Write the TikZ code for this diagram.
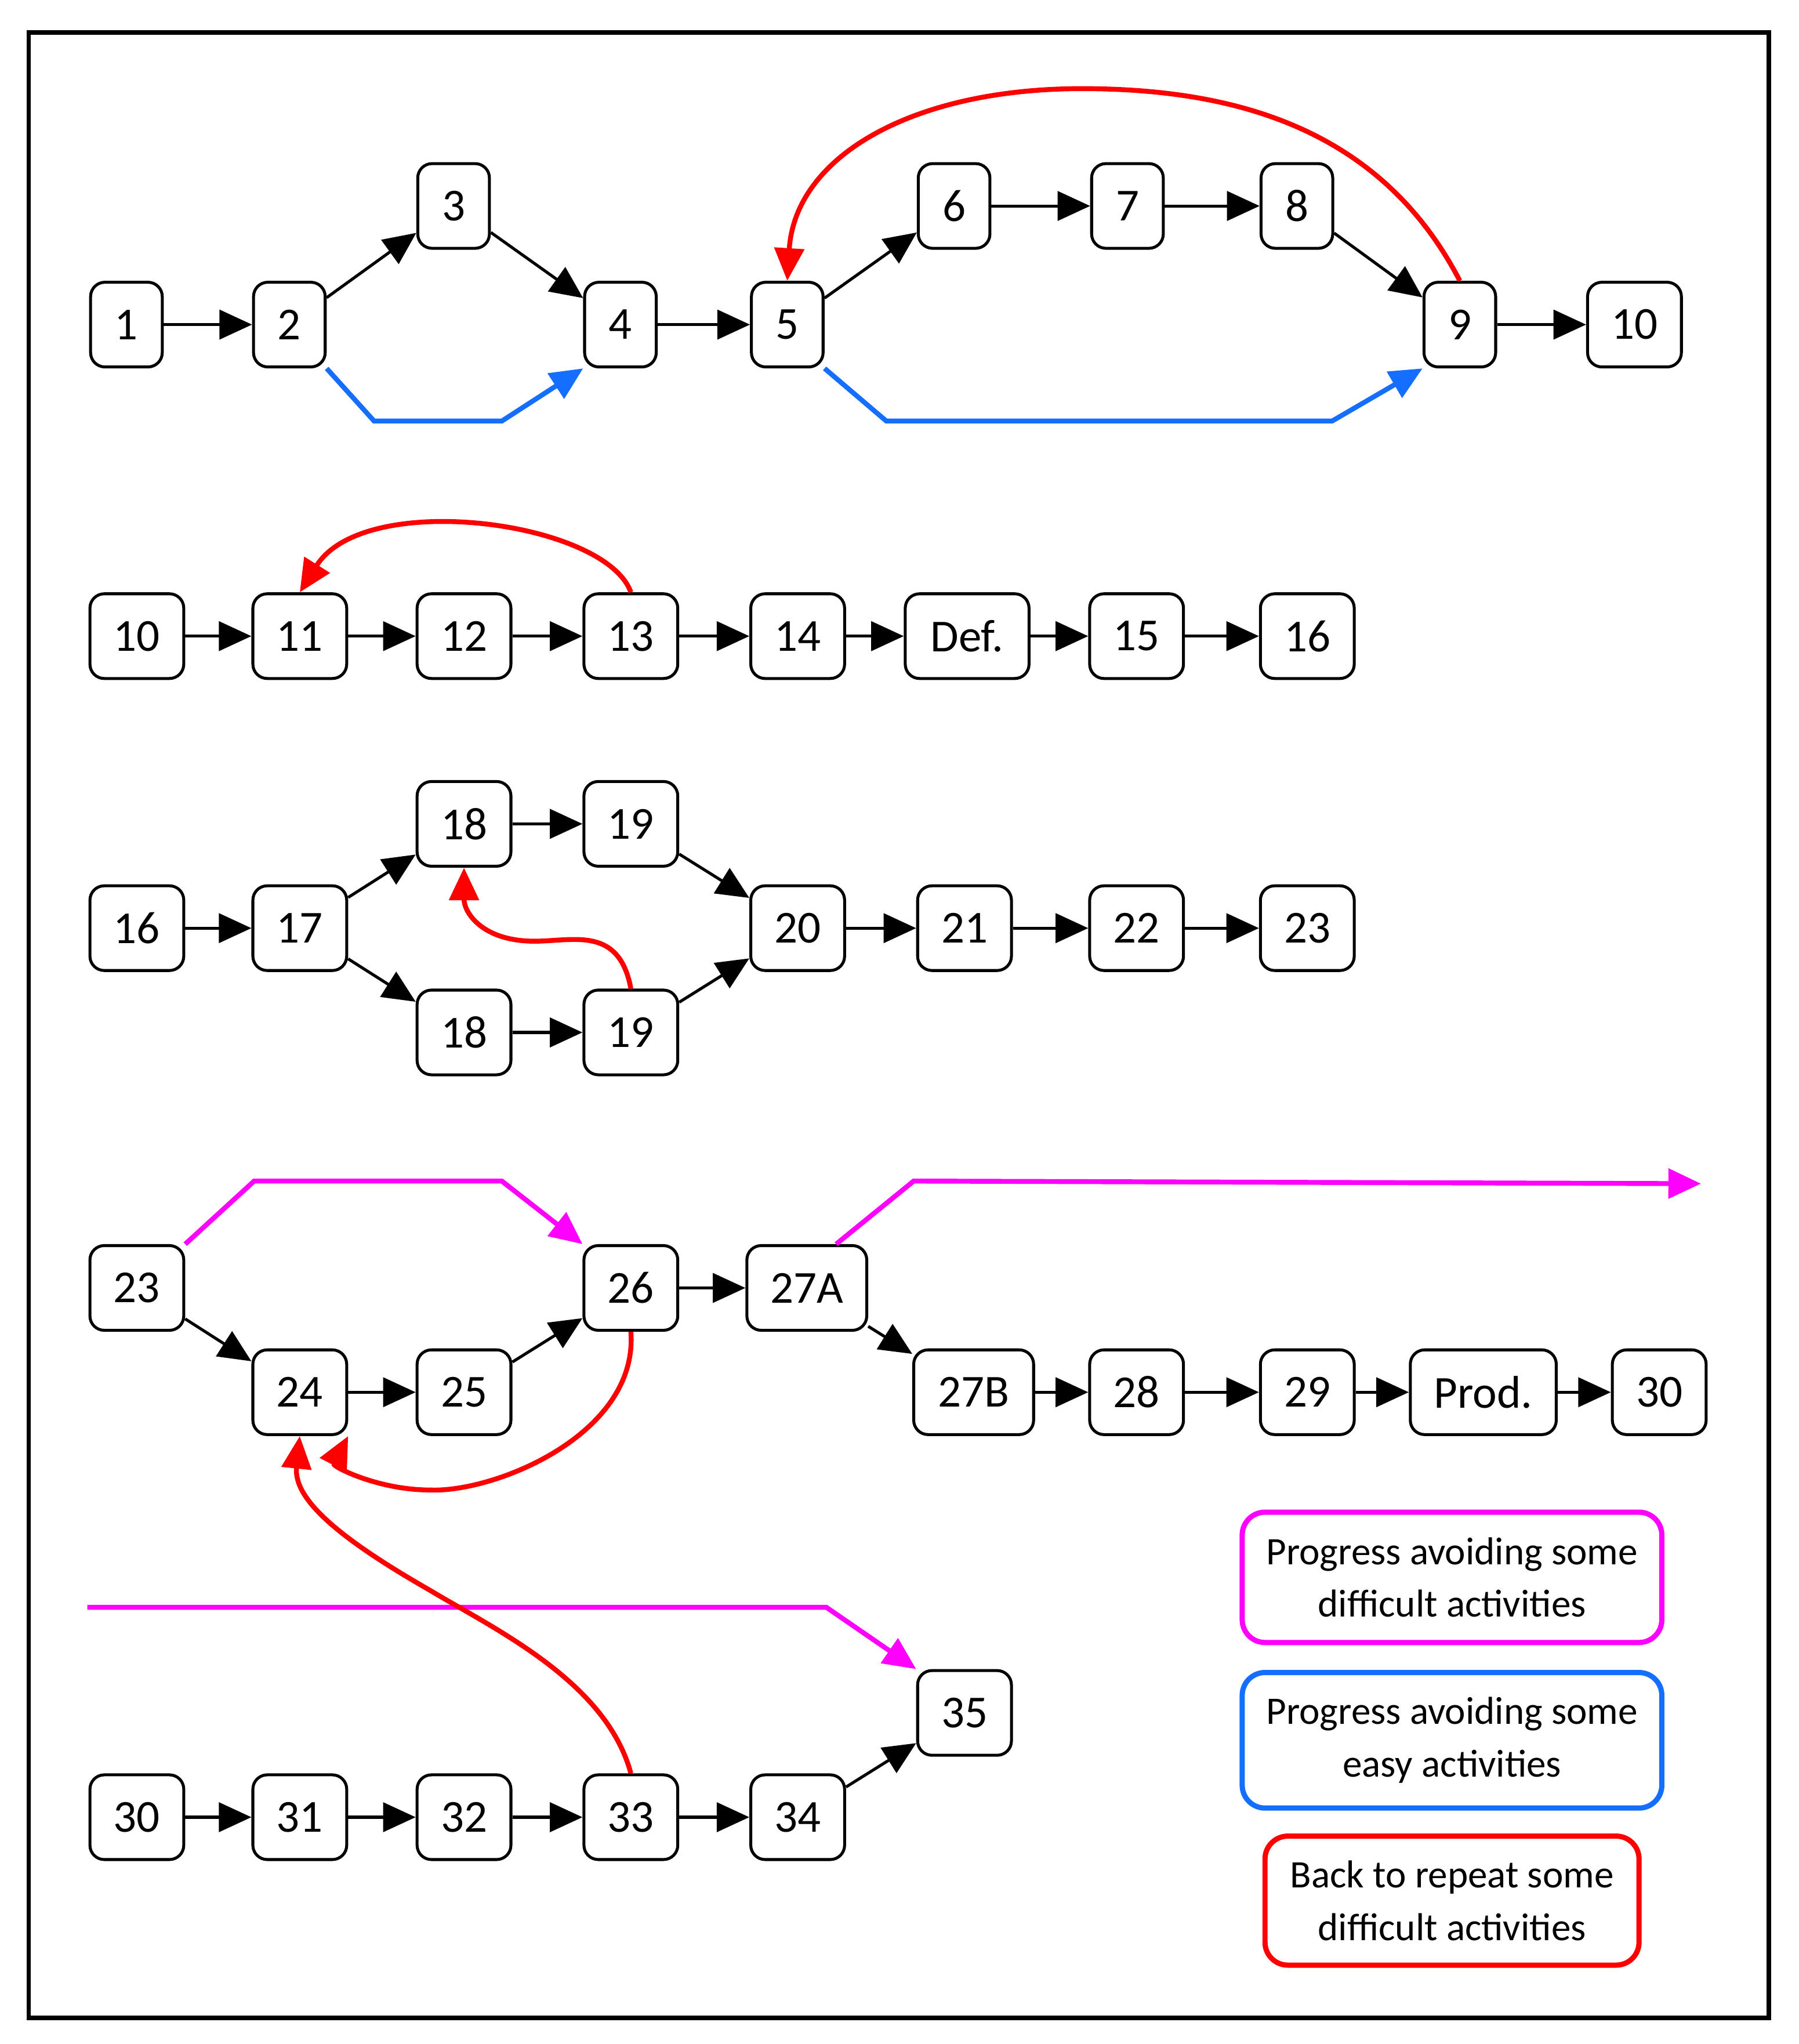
\documentclass[tikz,border=0pt]{standalone}
\usepackage{fontspec}
\setmainfont{Carlito}
\usetikzlibrary{arrows.meta}
\definecolor{mag}{RGB}{255,0,255}
\definecolor{blu}{RGB}{20,110,255}
\definecolor{rd}{RGB}{255,0,0}
\begin{document}
\begin{tikzpicture}[x=0.02cm,y=-0.02cm,
 n/.style={draw,line width=0.045cm,rounded corners=0.22cm,minimum width=1.1cm,minimum height=1.3cm,inner sep=0pt,font=\fontsize{20}{22}\selectfont},
 w/.style={n,minimum width=1.44cm},
 ar/.style={line width=0.045cm,-{Triangle[length=0.5cm,width=0.45cm]}},
 ca/.style={line width=0.075cm,-{Triangle[length=0.5cm,width=0.45cm]}},
 lg/.style={draw,line width=0.08cm,rounded corners=0.35cm,align=center,font=\fontsize{17}{23}\selectfont,inner sep=0pt}]
\useasboundingbox (0,0) rectangle (1380,1568);
\draw[line width=0.07cm] (22,25) rectangle (1357,1548);
% row 1
\node[n] (a1) at (97,249) {1};
\node[n] (a2) at (222,249) {2};
\node[n] (a3) at (348,158) {3};
\node[n] (a4) at (476,249) {4};
\node[n] (a5) at (604,249) {5};
\node[n] (a6) at (732,158) {6};
\node[n] (a7) at (865,158) {7};
\node[n] (a8) at (995,158) {8};
\node[n] (a9) at (1120,249) {9};
\node[w] (a10) at (1254,249) {10};
\draw[ar] (a1)--(a2); \draw[ar] (a2)--(a3); \draw[ar] (a3)--(a4); \draw[ar] (a4)--(a5);
\draw[ar] (a5)--(a6); \draw[ar] (a6)--(a7); \draw[ar] (a7)--(a8); \draw[ar] (a8)--(a9); \draw[ar] (a9)--(a10);
\draw[ca,blu] (a2.south east) -- (287,323) -- (385,323) -- (a4.south west);
\draw[ca,blu] (a5.south east) -- (680,323) -- (1022,323) -- (a9.south west);
\draw[ca,rd] (a9.north) .. controls (1060,100) and (950,68) .. (830,68) .. controls (700,68) and (610,120) .. (a5.north);
% row 2
\node[w] (b10) at (105,488) {10};
\node[w] (b11) at (230,488) {11};
\node[w] (b12) at (356,488) {12};
\node[w] (b13) at (484,488) {13};
\node[w] (b14) at (612,488) {14};
\node[n,minimum width=1.9cm] (bd) at (742,488) {Def.};
\node[w] (b15) at (872,488) {15};
\node[w] (b16) at (1003,488) {16};
\draw[ar] (b10)--(b11); \draw[ar] (b11)--(b12); \draw[ar] (b12)--(b13); \draw[ar] (b13)--(b14);
\draw[ar] (b14)--(bd); \draw[ar] (bd)--(b15); \draw[ar] (b15)--(b16);
\draw[ca,rd] (b13.north) .. controls (465,400) and (280,375) .. (b11.north);
% row 3
\node[w] (c16) at (105,712) {16};
\node[w] (c17) at (230,712) {17};
\node[w] (c18) at (356,632) {18};
\node[w] (c19) at (484,632) {19};
\node[w] (c18b) at (356,792) {18};
\node[w] (c19b) at (484,792) {19};
\node[w] (c20) at (612,712) {20};
\node[w] (c21) at (740,712) {21};
\node[w] (c22) at (872,712) {22};
\node[w] (c23) at (1003,712) {23};
\draw[ar] (c16)--(c17); \draw[ar] (c17)--(c18); \draw[ar] (c17)--(c18b); \draw[ar] (c18)--(c19);
\draw[ar] (c18b)--(c19b); \draw[ar] (c19)--(c20); \draw[ar] (c19b)--(c20); \draw[ar] (c20)--(c21);
\draw[ar] (c21)--(c22); \draw[ar] (c22)--(c23);
\draw[ca,rd] (c19b.north) .. controls (475,710) and (440,722) .. (410,722) .. controls (370,722) and (356,700) .. (c18.south);
% row 4
\node[w] (d23) at (105,988) {23};
\node[w] (d26) at (484,988) {26};
\node[n,minimum width=1.84cm] (d27a) at (619,988) {27A};
\node[w] (d24) at (230,1068) {24};
\node[w] (d25) at (356,1068) {25};
\node[n,minimum width=1.84cm] (d27b) at (747,1068) {27B};
\node[w] (d28) at (872,1068) {28};
\node[w] (d29) at (1003,1068) {29};
\node[n,minimum width=2.24cm] (dp) at (1138,1068) {Prod.};
\node[w] (d30) at (1273,1068) {30};
\draw[ar] (d23)--(d24); \draw[ar] (d24)--(d25); \draw[ar] (d25)--(d26); \draw[ar] (d26)--(d27a);
\draw[ar] (d27a)--(d27b); \draw[ar] (d27b)--(d28); \draw[ar] (d28)--(d29); \draw[ar] (d29)--(dp); \draw[ar] (dp)--(d30);
\draw[ca,mag] (d23.north east) -- (195,906) -- (385,906) -- (d26.north west);
\coordinate (me) at (1305,908);
\draw[ca,mag] ([xshift=-14]d27a.north east) -- (701,906) -- (me);
\draw[ca,rd] (d26.south) .. controls (490,1100) and (380,1145) .. (330,1143) .. controls (290,1143) and (255,1125) .. (d24.south east);
% row 5
\node[w] (e30) at (105,1394) {30};
\node[w] (e31) at (230,1394) {31};
\node[w] (e32) at (356,1394) {32};
\node[w] (e33) at (484,1394) {33};
\node[w] (e34) at (612,1394) {34};
\node[w] (e35) at (740,1314) {35};
\draw[ar] (e30)--(e31); \draw[ar] (e31)--(e32); \draw[ar] (e32)--(e33); \draw[ar] (e33)--(e34); \draw[ar] (e34)--(e35);
\coordinate (ms) at (67,1233);
\draw[ca,mag] (ms) -- (634,1233) -- (e35.north west);
\draw[ca,rd] (e33.north) .. controls (465,1290) and (380,1250) .. (330,1220) .. controls (260,1180) and (225,1150) .. (d24.south);
% legend
\node[lg,mag,text=black,minimum width=6.44cm,minimum height=2cm] (l1) at (1114,1210) {Progress avoiding some\\difficult activities};
\node[lg,blu,text=black,minimum width=6.44cm,minimum height=2.08cm] (l2) at (1114,1335) {Progress avoiding some\\easy activities};
\node[lg,rd,text=black,minimum width=5.74cm,minimum height=1.98cm] (l3) at (1114,1458) {Back to repeat some\\difficult activities};
\end{tikzpicture}
\end{document}
